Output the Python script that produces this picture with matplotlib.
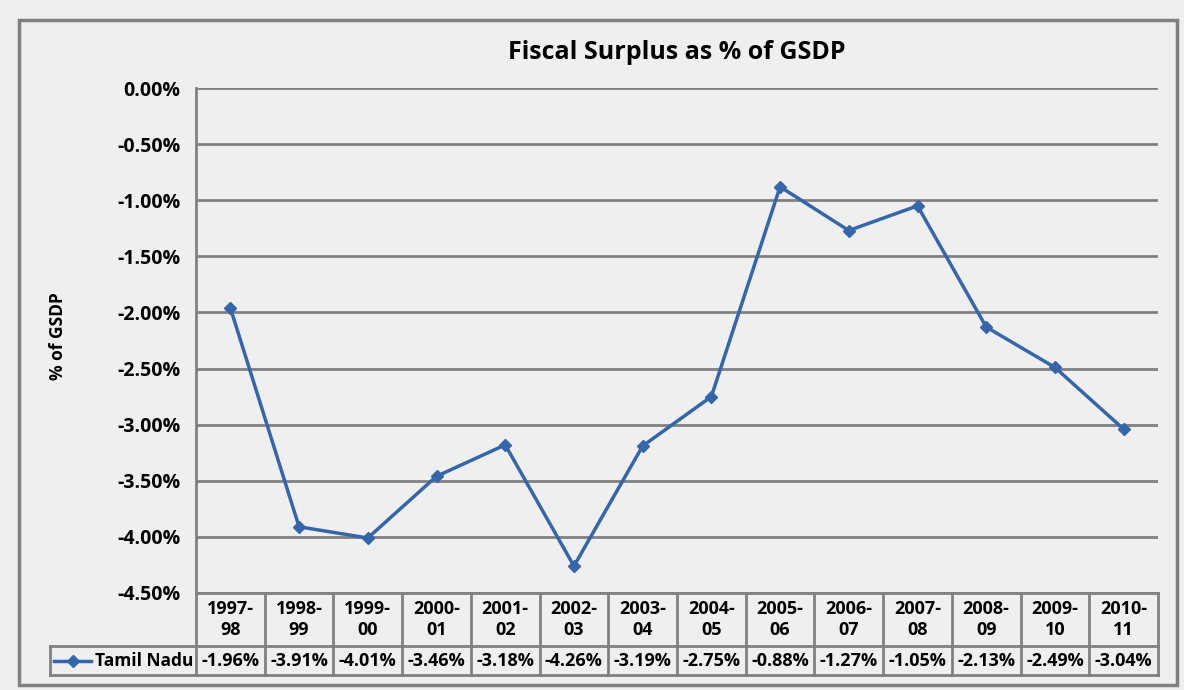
import matplotlib
matplotlib.use("Agg")
import matplotlib.pyplot as plt
from matplotlib.patches import Rectangle
from matplotlib.lines import Line2D
import matplotlib.transforms as mtransforms

categories = ["1997-\n98", "1998-\n99", "1999-\n00", "2000-\n01", "2001-\n02", "2002-\n03",
              "2003-\n04", "2004-\n05", "2005-\n06", "2006-\n07", "2007-\n08", "2008-\n09",
              "2009-\n10", "2010-\n11"]
values = [-1.96, -3.91, -4.01, -3.46, -3.18, -4.26, -3.19, -2.75, -0.88, -1.27, -1.05, -2.13, -2.49, -3.04]
yticks = [0.0, -0.5, -1.0, -1.5, -2.0, -2.5, -3.0, -3.5, -4.0, -4.5]
series_name = "Tamil Nadu"

plt.rcParams['font.family'] = ['Open Sans', 'DejaVu Sans']
plt.rcParams['font.weight'] = 'bold'

W, H = 1184, 690
fig = plt.figure(figsize=(W / 100, H / 100), dpi=100, facecolor='#efefef')

# outer frame
fig.patches.append(Rectangle((19 / W, 1 - 685 / H), (1177 - 19) / W, (685 - 20) / H,
                             transform=fig.transFigure, fill=False, edgecolor='#808080',
                             linewidth=2.5, zorder=0))

ax_l, ax_r, ax_t, ax_b = 196, 1158, 88, 593
ax = fig.add_axes([ax_l / W, 1 - ax_b / H, (ax_r - ax_l) / W, (ax_b - ax_t) / H])
ax.set_facecolor('#efefef')

n = len(values)
x = list(range(n))
line_color = '#3566aa'
ax.plot(x, values, color=line_color, linewidth=2.5, marker='D', markersize=6.5,
        markerfacecolor=line_color, markeredgecolor=line_color, zorder=3, clip_on=False)

ax.set_xlim(-0.5, n - 0.5)
ax.set_ylim(-4.5, 0)
ax.set_yticks(yticks)
ax.set_yticklabels([f"{v:.2f}%" for v in yticks], fontsize=14, fontweight='bold')
ax.tick_params(axis='y', length=0, pad=11)
ax.set_xticks([])
ax.grid(axis='y', color='#808080', linewidth=2)
ax.set_axisbelow(True)
for s in ['top', 'right', 'bottom']:
    ax.spines[s].set_visible(False)
ax.spines['left'].set_color('#808080')
ax.spines['left'].set_linewidth(2)

ax.set_title("Fiscal Surplus as % of GSDP", fontsize=18, fontweight='bold', pad=21)
ax.set_ylabel("% of GSDP", fontsize=12.5, fontweight='bold')
ax.yaxis.set_label_coords((67 - ax_l) / (ax_r - ax_l), 0.508)

# data table drawn manually (x in data coords, y in pixels below axes -> axes coords)
trans = mtransforms.blended_transform_factory(ax.transData, ax.transAxes)
ph = ax_b - ax_t
colw = (ax_r - ax_l) / n


def ya(py):
    return -(py - ax_b) / ph


y_top, y_mid, y_bot = ya(593), ya(646), ya(675)
x_lab = -0.5 - (ax_l - 50) / colw
gc = '#808080'
lw = 2
ax.add_line(Line2D([-0.5, n - 0.5], [y_top, y_top], transform=trans, color=gc, lw=lw, clip_on=False))
ax.add_line(Line2D([x_lab, n - 0.5], [y_mid, y_mid], transform=trans, color=gc, lw=lw, clip_on=False))
ax.add_line(Line2D([x_lab, n - 0.5], [y_bot, y_bot], transform=trans, color=gc, lw=lw, clip_on=False))
for i in range(n + 1):
    ax.add_line(Line2D([i - 0.5, i - 0.5], [y_top, y_bot], transform=trans, color=gc, lw=lw, clip_on=False))
ax.add_line(Line2D([x_lab, x_lab], [y_mid, y_bot], transform=trans, color=gc, lw=lw, clip_on=False))

for i, (c, v) in enumerate(zip(categories, values)):
    ax.text(i, (y_top + y_mid) / 2, c, transform=trans, ha='center', va='center',
            fontsize=13, fontweight='bold', linespacing=1.15)
    ax.text(i, (y_mid + y_bot) / 2, f"{v:.2f}%", transform=trans, ha='center', va='center',
            fontsize=13, fontweight='bold')

ax.text(-0.5 - 3 / colw, (y_mid + y_bot) / 2, series_name, transform=trans, ha='right', va='center',
        fontsize=12.5, fontweight='bold')

# legend key in row label cell
ky = (y_mid + y_bot) / 2
kx0 = -0.5 - (ax_l - 54) / colw
kx1 = -0.5 - (ax_l - 91) / colw
ax.add_line(Line2D([kx0, kx1], [ky, ky], transform=trans, color=line_color,
                   linewidth=2.5, clip_on=False, zorder=5))
ax.add_line(Line2D([(kx0 + kx1) / 2], [ky], transform=trans, color=line_color,
                   marker='D', markersize=6.5, clip_on=False, zorder=5))

fig.savefig("out.png", dpi=100, facecolor=fig.get_facecolor())
